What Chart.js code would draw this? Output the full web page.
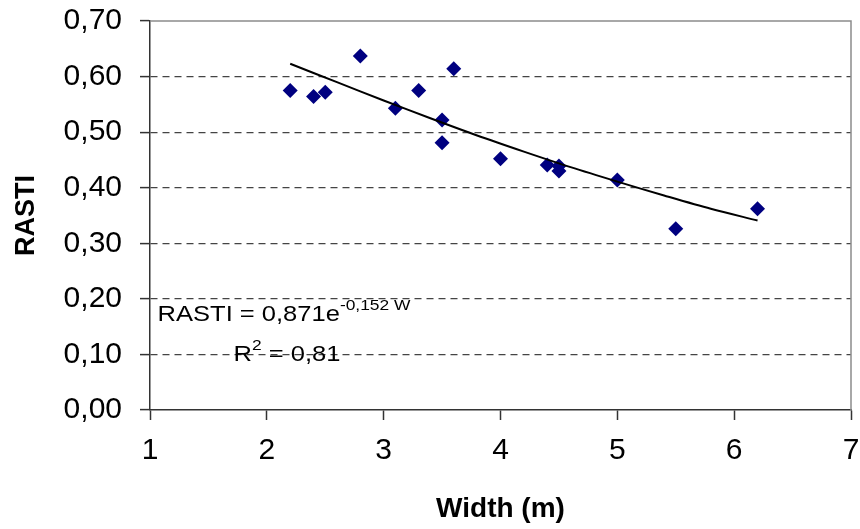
<!DOCTYPE html>
<html>
<head>
<meta charset="utf-8">
<script src="https://cdn.jsdelivr.net/npm/chart.js@4/dist/chart.umd.min.js"></script>
<style>
    html, body { margin: 0; padding: 0; background: #ffffff; }
    #wrap { width: 860px; height: 529px; }
</style>
</head>
<body>
<div id="wrap"><canvas id="rastiGraph" width="860" height="529"></canvas></div>
<script>
// measured values
var widths = [2.2, 2.4, 2.5, 2.8, 3.1, 3.3, 3.5, 3.5, 3.6, 4.0, 4.4, 4.5, 4.5, 5.0, 5.5, 6.2];
var rasti = [0.575, 0.564, 0.572, 0.637, 0.543, 0.575, 0.522, 0.481, 0.614, 0.452, 0.441, 0.439, 0.430, 0.414, 0.326, 0.362];

// trend line
var trendWidths = [2.2, 2.6, 3.0, 3.4, 3.8, 4.2, 4.6, 5.0, 5.4, 5.8, 6.2];
var trendRasti = [0.623, 0.590, 0.557, 0.525, 0.494, 0.465, 0.437, 0.411, 0.386, 0.362, 0.341];

var xTicks = [1, 2, 3, 4, 5, 6, 7];
var yTicks = [0, 0.1, 0.2, 0.3, 0.4, 0.5, 0.6, 0.7];

var fontFamily = "'Liberation Sans', Arial, sans-serif";

function to_points(xs, ys) {
    var out = [];
    for (var i = 0; i < xs.length; i++) {
        out.push({ x: xs[i], y: ys[i] });
    }
    return out;
}

// top and right frame of the plot area
var frameBorder = {
    id: "frameBorder",
    afterDraw: function (chart) {
        var a = chart.chartArea;
        var ctx = chart.ctx;
        ctx.save();
        ctx.strokeStyle = "#8c8c8c";
        ctx.lineWidth = 1.5;
        ctx.beginPath();
        ctx.moveTo(a.left, a.top);
        ctx.lineTo(a.right, a.top);
        ctx.lineTo(a.right, a.bottom);
        ctx.stroke();
        ctx.restore();
    },
};

// trendline equation label, stretched a bit like the original
var equationLabel = {
    id: "equationLabel",
    afterDraw: function (chart) {
        var ctx = chart.ctx;
        var xs = chart.scales.x;
        var ys = chart.scales.y;
        var stretch = 1.16;
        ctx.save();
        ctx.fillStyle = "#000000";
        ctx.textBaseline = "alphabetic";
        ctx.textAlign = "left";

        var x1 = xs.getPixelForValue(1.065);
        var y1 = ys.getPixelForValue(0.161);
        ctx.translate(x1, y1);
        ctx.scale(stretch, 1);
        ctx.font = "22px " + fontFamily;
        var main = "RASTI = 0,871e";
        ctx.fillText(main, 0, 0);
        var w = ctx.measureText(main).width;
        ctx.font = "15px " + fontFamily;
        ctx.fillText("-0,152 W", w, -11);
        ctx.restore();

        ctx.save();
        ctx.fillStyle = "#000000";
        var x2 = xs.getPixelForValue(1.715);
        var y2 = ys.getPixelForValue(0.089);
        ctx.translate(x2, y2);
        ctx.scale(stretch, 1);
        ctx.font = "22px " + fontFamily;
        ctx.fillText("R", 0, 0);
        var rw = ctx.measureText("R").width;
        ctx.font = "15px " + fontFamily;
        ctx.fillText("2", rw, -11);
        var sw = ctx.measureText("2").width;
        ctx.font = "22px " + fontFamily;
        ctx.fillText(" = 0,81", rw + sw, 0);
        ctx.restore();
    },
};

function create_rasti_graph() {
    var config = {
        type: "scatter",
        data: {
            datasets: [
                {
                    label: "RASTI",
                    data: to_points(widths, rasti),
                    showLine: false,
                    pointStyle: "rectRot",
                    pointRadius: 7.5,
                    pointBackgroundColor: "#000080",
                    pointBorderColor: "#000080",
                    pointBorderWidth: 0,
                    order: 2,
                },
                {
                    label: "Trend",
                    data: to_points(trendWidths, trendRasti),
                    showLine: true,
                    borderColor: "#000000",
                    borderWidth: 2,
                    pointRadius: 0,
                    tension: 0.3,
                    order: 1,
                },
            ],
        },
        options: {
            responsive: false,
            animation: false,
            layout: { padding: { top: 21, right: 9, left: 0, bottom: 0 } },
            plugins: {
                legend: { display: false },
                tooltip: { enabled: false },
            },
            scales: {
                x: {
                    type: "linear",
                    min: xTicks[0],
                    max: xTicks[xTicks.length - 1],
                    afterBuildTicks: function (scale) {
                        scale.ticks = xTicks.map(function (v) { return { value: v }; });
                    },
                    afterFit: function (scale) {
                        scale.height = 119;
                        scale.paddingLeft = 0;
                        scale.paddingRight = 0;
                    },
                    ticks: {
                        color: "#000000",
                        font: { family: fontFamily, size: 30 },
                        padding: 13,
                        maxRotation: 0,
                        callback: function (value) { return String(value); },
                    },
                    grid: {
                        drawOnChartArea: false,
                        drawTicks: true,
                        tickLength: 10,
                        tickColor: "#333333",
                        tickWidth: 1.5,
                    },
                    border: { display: true, color: "#333333", width: 1.5 },
                    title: {
                        display: true,
                        text: "Width (m)",
                        color: "#000000",
                        font: { family: fontFamily, size: 28, weight: "bold" },
                        padding: { top: 0, bottom: 3 },
                    },
                },
                y: {
                    type: "linear",
                    min: yTicks[0],
                    max: yTicks[yTicks.length - 1],
                    afterBuildTicks: function (scale) {
                        scale.ticks = yTicks.map(function (v) { return { value: v }; });
                    },
                    afterFit: function (scale) {
                        scale.width = 150;
                        scale.paddingTop = 0;
                        scale.paddingBottom = 0;
                    },
                    ticks: {
                        color: "#000000",
                        font: { family: fontFamily, size: 30 },
                        padding: 18,
                        callback: function (value) {
                            return Number(value).toFixed(2).replace(".", ",");
                        },
                    },
                    grid: {
                        color: function (ctx) {
                            if (!ctx.tick) return "#444444";
                            var v = ctx.tick.value;
                            if (Math.abs(v) < 1e-9 || Math.abs(v - 0.7) < 1e-9) {
                                return "rgba(0,0,0,0)";
                            }
                            return "#444444";
                        },
                        lineWidth: 1.2,
                        tickBorderDash: [],
                        tickLength: 10,
                        tickColor: "#333333",
                        tickWidth: 1.5,
                    },
                    border: { display: true, color: "#333333", width: 1.5, dash: [7, 5] },
                    title: {
                        display: true,
                        text: "RASTI",
                        color: "#000000",
                        font: { family: fontFamily, size: 27, weight: "bold" },
                        padding: { top: 10, bottom: 0 },
                    },
                },
            },
        },
        plugins: [frameBorder, equationLabel],
    };
    return new Chart("rastiGraph", config);
}

var rastiGraph = create_rasti_graph();
</script>
</body>
</html>
